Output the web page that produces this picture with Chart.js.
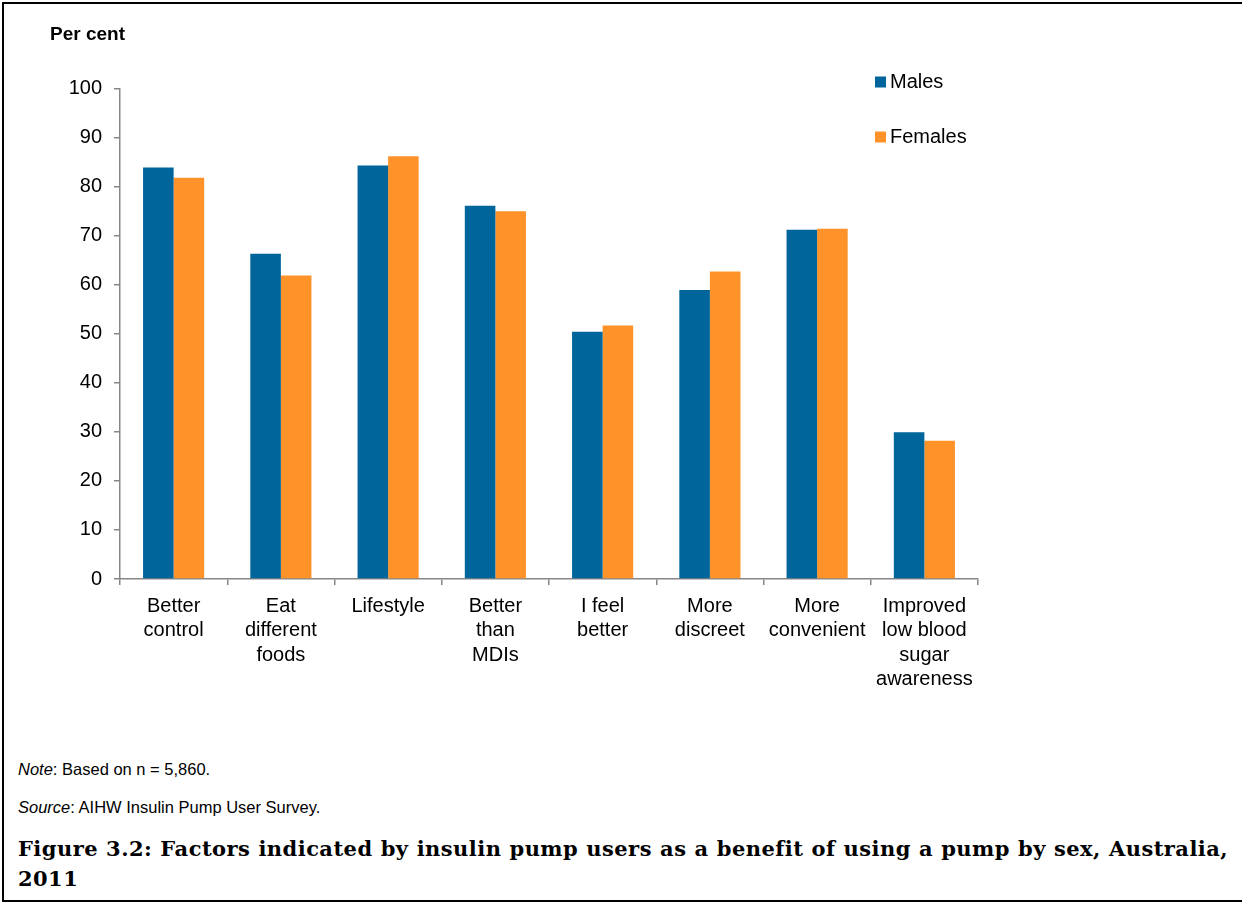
<!DOCTYPE html>
<html>
<head>
<meta charset="utf-8">
<script src="https://cdn.jsdelivr.net/npm/chart.js@4"></script>
<style>
    html, body { margin: 0; padding: 0; background: #fff; }
    #page {
        position: relative;
        width: 1242px;
        height: 902px;
        overflow: hidden;
        font-family: "Liberation Sans", Arial, sans-serif;
    }
    #frame {
        position: absolute;
        left: 2px; top: 2px;
        width: 1260px; height: 896px;
        border-left: 2px solid #000;
        border-top: 2px solid #000;
        border-bottom: 2px solid #000;
        pointer-events: none;
    }
    #chartBox {
        position: absolute;
        left: 0; top: 0;
        width: 1242px; height: 720px;
    }
    .note {
        position: absolute;
        left: 18px;
        font-size: 16.5px;
        line-height: 20px;
        color: #000;
    }
    #caption {
        position: absolute;
        left: 18px; top: 834px;
        font-family: "DejaVu Serif", serif;
        font-weight: bold;
        font-size: 21px;
        line-height: 30px;
        letter-spacing: 0.45px;
        word-spacing: 0.4px;
        color: #000;
        white-space: nowrap;
    }
</style>
</head>
<body>
<div id="page">
    <div id="chartBox"><canvas id="benefitChart"></canvas></div>
    <div class="note" style="top: 759px;"><i>Note</i>: Based on n = 5,860.</div>
    <div class="note" style="top: 797px;"><i>Source</i>: AIHW Insulin Pump User Survey.</div>
    <div id="caption">Figure 3.2: Factors indicated by insulin pump users as a benefit of using a pump by sex, Australia,<br>2011</div>
    <div id="frame"></div>
</div>
<script>
const categories = [
    ['Better', 'control'],
    ['Eat', 'different', 'foods'],
    ['Lifestyle'],
    ['Better', 'than', 'MDIs'],
    ['I feel', 'better'],
    ['More', 'discreet'],
    ['More', 'convenient'],
    ['Improved', 'low blood', 'sugar', 'awareness']
];
const males = [83.9, 66.3, 84.3, 76.1, 50.4, 58.9, 71.2, 29.9];
const females = [81.8, 61.9, 86.2, 75.0, 51.7, 62.7, 71.4, 28.2];
const yTicks = [0, 10, 20, 30, 40, 50, 60, 70, 80, 90, 100];

const axisGrey = '#868686';
const font = 'Liberation Sans, Arial, sans-serif';

// "Per cent" heading and the two-row legend in the top right
const extras = {
    id: 'extras',
    afterDraw(chart) {
        const ctx = chart.ctx;
        ctx.save();
        ctx.fillStyle = '#000';
        ctx.textBaseline = 'middle';
        ctx.font = 'bold 19px ' + font;
        ctx.fillText('Per cent', 50, 35);

        ctx.font = '20px ' + font;
        const rows = [82, 137];
        chart.data.datasets.forEach((ds, i) => {
            ctx.fillStyle = ds.backgroundColor;
            ctx.fillRect(875, rows[i] - 5.5, 11, 11);
            ctx.fillStyle = '#000';
            ctx.fillText(ds.label, 890, rows[i]);
        });
        ctx.restore();
    }
};

new Chart(document.getElementById('benefitChart'), {
    type: 'bar',
    data: {
        labels: categories,
        datasets: [{
            label: 'Males',
            data: males,
            backgroundColor: '#00659A'
        }, {
            label: 'Females',
            data: females,
            backgroundColor: '#FF9329'
        }]
    },
    options: {
        responsive: true,
        maintainAspectRatio: false,
        animation: false,
        categoryPercentage: 0.57,
        barPercentage: 1,
        layout: {
            padding: { left: 0, right: 264, top: 88.5, bottom: 0 }
        },
        plugins: {
            legend: { display: false },
            tooltip: { enabled: false }
        },
        scales: {
            x: {
                grid: {
                    drawOnChartArea: false,
                    tickLength: 6,
                    color: axisGrey,
                    lineWidth: 1.5
                },
                border: { color: axisGrey, width: 1.5 },
                ticks: {
                    color: '#000',
                    padding: 9,
                    maxRotation: 0,
                    autoSkip: false,
                    font: { family: font, size: 20, lineHeight: 1.22 }
                },
                afterFit(scale) { scale.height = 720 - 579; }
            },
            y: {
                min: 0,
                max: 100,
                afterBuildTicks(scale) {
                    scale.ticks = yTicks.map(v => ({ value: v }));
                },
                grid: {
                    drawOnChartArea: false,
                    tickLength: 6,
                    color: axisGrey,
                    lineWidth: 1.5
                },
                border: { color: axisGrey, width: 1.5 },
                ticks: {
                    color: '#000',
                    padding: 12,
                    font: { family: font, size: 20 }
                },
                afterFit(scale) { scale.width = 120; }
            }
        }
    },
    plugins: [extras]
});
</script>
</body>
</html>
